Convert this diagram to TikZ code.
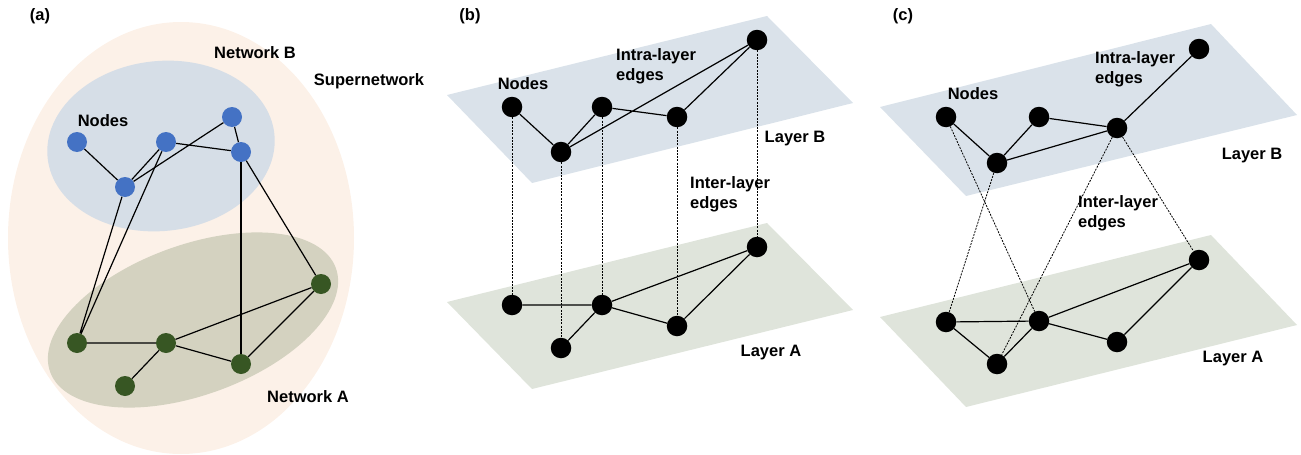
\documentclass[tikz,border=0pt]{standalone}
\usepackage{fontspec}
\setmainfont{Liberation Sans}
\definecolor{superfill}{HTML}{FCF1E8}
\definecolor{netBfill}{HTML}{D6DEE7}
\definecolor{netAfill}{HTML}{D4D2C0}
\definecolor{layBfill}{HTML}{DAE2EA}
\definecolor{layAfill}{HTML}{DFE4DB}
\definecolor{dotblue}{HTML}{4472C4}
\definecolor{dotgreen}{HTML}{375623}

\begin{document}
\begin{tikzpicture}
[x=1pt,y=-1pt,
	lbl/.style={font=\fontsize{16.5}{20}\selectfont\bfseries,inner sep=0pt},
	twolbl/.style={lbl,align=left,anchor=west},
	dotB/.style={circle,fill=dotblue,minimum size=20pt,inner sep=0pt},
	dotA/.style={circle,fill=dotgreen,minimum size=20pt,inner sep=0pt},
	vert/.style={circle,fill=black,minimum size=20.5pt,inner sep=0pt},
	link/.style={line width=1.2pt},
	jump/.style={line width=0.8pt,dash pattern=on 2pt off 1.2pt}]
\useasboundingbox (0,0) rectangle (1301,455);

% (a) supernetwork
\fill[superfill] (181,238) ellipse [x radius=173, y radius=216];
\fill[netBfill,rotate around={6:(161,146)}] (161,146) ellipse [x radius=114, y radius=85];
\fill[netAfill,rotate around={20:(193,320)}] (193,320) ellipse [x radius=152, y radius=75];

\node[dotB] (nb1) at (77,142) {};
\node[dotB] (nb2) at (166,142) {};
\node[dotB] (nb3) at (232,117) {};
\node[dotB] (nb4) at (241,152) {};
\node[dotB] (nb5) at (125,187) {};
\node[dotA] (na1) at (77,343) {};
\node[dotA] (na2) at (166,343) {};
\node[dotA] (na3) at (241,364) {};
\node[dotA] (na4) at (321,284) {};
\node[dotA] (na5) at (125,386) {};

\draw[link] (nb1) -- (nb5) -- (nb2) -- (nb4) -- (nb3) -- (nb5);
\draw[link] (nb5) -- (na1) -- (nb2);
\draw[link] (nb4) -- (na3);
\draw[link] (nb4) -- (na4);
\draw[link] (na1) -- (na2) -- (na4) -- (na3) -- (na2) -- (na5);

\node[lbl] at (40,16) {(a)};
\node[lbl] at (255,53) {Network B};
\node[lbl] at (369,81) {Supernetwork};
\node[lbl] at (103,121) {Nodes};
\node[lbl] at (308,397) {Network A};

% (b) one-to-one couplings
\fill[layBfill] (447,95) -- (767,16) -- (853,103) -- (532,183) -- cycle;
\fill[layAfill] (447,302) -- (767,223) -- (853,310) -- (532,389) -- cycle;

\node[vert] (pb1) at (512,107) {};
\node[vert] (pb2) at (602,107) {};
\node[vert] (pb3) at (677,117) {};
\node[vert] (pb4) at (757,40) {};
\node[vert] (pb5) at (561,152) {};
\node[vert] (pa1) at (512,305) {};
\node[vert] (pa2) at (602,305) {};
\node[vert] (pa3) at (677,326) {};
\node[vert] (pa4) at (757,247) {};
\node[vert] (pa5) at (561,348) {};

\draw[link] (pb1) -- (pb5) -- (pb2) -- (pb3) -- (pb4) -- (pb5);
\draw[link] (pa1) -- (pa2) -- (pa4) -- (pa3) -- (pa2) -- (pa5);
\foreach \i in {1,...,5}
	\draw[jump] (pb\i) -- (pa\i);

\node[lbl] at (470,16) {(b)};
\node[lbl] at (523,84) {Nodes};
\node[twolbl] at (616,66) {Intra-layer\\edges};
\node[lbl] at (795,139) {Layer B};
\node[twolbl] at (690,194) {Inter-layer\\edges};
\node[lbl] at (771,353) {Layer A};

% (c) crossed couplings
\fill[layBfill] (880,107) -- (1211,24) -- (1297,115) -- (966,196) -- cycle;
\fill[layAfill] (880,317) -- (1211,235) -- (1297,325) -- (966,407) -- cycle;

\node[vert] (qb1) at (946,117) {};
\node[vert] (qb2) at (1039,117) {};
\node[vert] (qb3) at (1117,128) {};
\node[vert] (qb4) at (1199,49) {};
\node[vert] (qb5) at (997,163) {};
\node[vert] (qa1) at (946,322) {};
\node[vert] (qa2) at (1039,321) {};
\node[vert] (qa3) at (1117,342) {};
\node[vert] (qa4) at (1199,260) {};
\node[vert] (qa5) at (997,364) {};

\draw[link] (qb1) -- (qb5) -- (qb2) -- (qb3) -- (qb5);
\draw[link] (qb3) -- (qb4);
\draw[link] (qa1) -- (qa2) -- (qa4) -- (qa3) -- (qa2) -- (qa5) -- (qa1);
\draw[jump] (qb1) -- (qa2);
\draw[jump] (qb5) -- (qa1);
\draw[jump] (qb3) -- (qa5);
\draw[jump] (qb3) -- (qa4);

\node[lbl] at (903,16) {(c)};
\node[lbl] at (973,94) {Nodes};
\node[twolbl] at (1095,69) {Intra-layer\\edges};
\node[lbl] at (1252,156) {Layer B};
\node[twolbl] at (1078,213) {Inter-layer\\edges};
\node[lbl] at (1233,359) {Layer A};
\end{tikzpicture}
\end{document}
